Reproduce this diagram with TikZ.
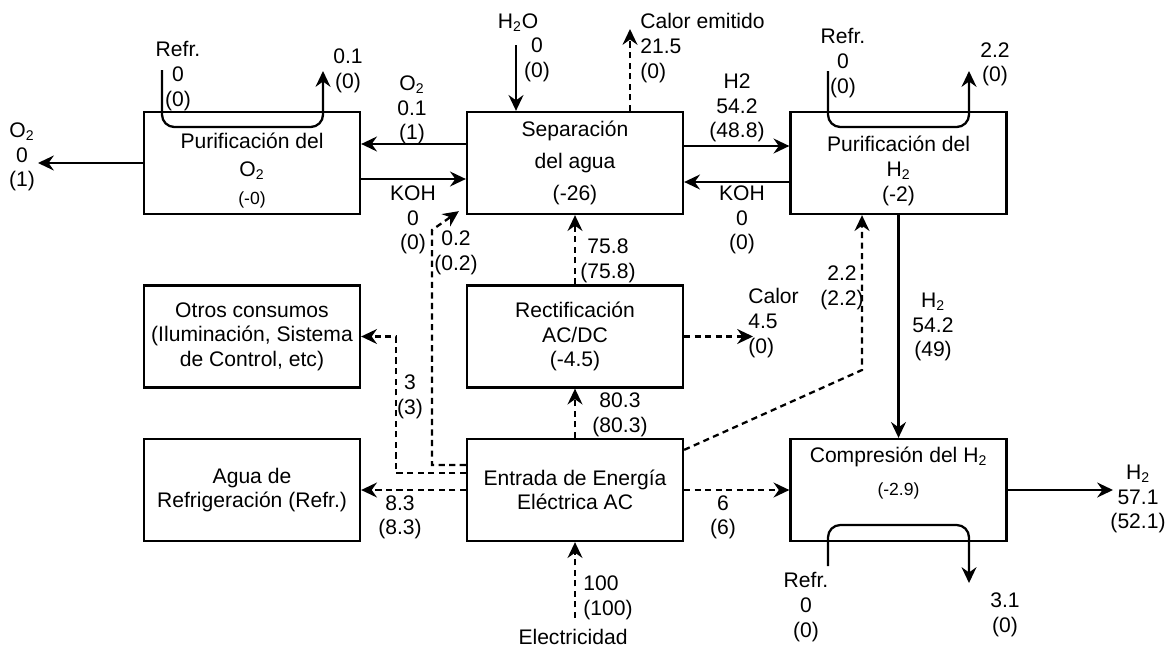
\documentclass[tikz,border=0pt]{standalone}
\usepackage{fontspec}
\setmainfont{Liberation Sans}
\usepackage{tikz}
\usetikzlibrary{arrows.meta}

\begin{document}
\begin{tikzpicture}[font=\fontsize{12}{14}\selectfont,
    box/.style={draw, line width=1.3pt, minimum width=4.32cm, minimum height=2.04cm, align=center, inner sep=2pt},
    flow/.style={line width=1.3pt, -{Stealth[length=9pt,width=8.5pt,inset=3pt]}},
    eflow/.style={flow, dash pattern=on 3.5pt off 2.5pt},
    lbl/.style={align=center, inner sep=0pt}]
    \useasboundingbox (0,0) rectangle (23.48,-12.96);

    % Boxes
    \node[box] (po2) at (5.04,-3.26) {\strut\\[-6pt]Purificación del\\[2pt]O\textsubscript{2}\\[2pt]{\fontsize{10}{12}\selectfont (-0)}};
    \node[box] (sep) at (11.5,-3.26) {Separación\\[4pt]del agua\\[4pt](-26)};
    \node[box] (ph2) at (17.97,-3.26) {\strut\\[-6pt]Purificación del\\H\textsubscript{2}\\(-2)};
    \node[box] (otros) at (5.04,-6.73) {Otros consumos\\(Iluminación, Sistema\\de Control, etc)};
    \node[box] (rect) at (11.5,-6.73) {Rectificación\\AC/DC\\(-4.5)};
    \node[box] (agua) at (5.04,-9.8) {Agua de\\Refrigeración (Refr.)};
    \node[box] (entr) at (11.5,-9.8) {Entrada de Energía\\Eléctrica AC};
    \node[box] (comp) at (17.97,-9.8) {Compresión del H\textsubscript{2}\\[5pt]{\fontsize{10}{12}\selectfont (-2.9)}\\[3pt]\strut};

    % O2 out
    \coordinate (o2out) at (0.76,-3.26);
    \draw[flow] (po2.west) -- (o2out);
    \node[lbl] (lo2out) at (0.44,-3.14) {O\textsubscript{2}\\0\\(1)};

    % O2 from separation
    \draw[flow] ([yshift=0.38cm]sep.west) -- ([yshift=0.38cm]po2.east);
    \node[lbl] (lo2) at (8.24,-2.2) {O\textsubscript{2}\\0.1\\(1)};

    % KOH back to separation
    \draw[flow] ([yshift=-0.32cm]po2.east) -- ([yshift=-0.32cm]sep.west);
    \node[lbl] (lkoha) at (8.26,-4.4) {KOH\\0\\(0)};

    % H2O in
    \coordinate (h2oin) at (10.32,-0.9);
    \draw[flow] (h2oin) -- (h2oin |- sep.north);
    \node[lbl] (lh2o) at (10.36,-0.46) {H\textsubscript{2}O};
    \node[lbl] (lh2ov) at (10.74,-1.2) {0\\(0)};

    % Heat out
    \coordinate (calem) at (12.6,-0.58);
    \draw[eflow] (calem |- sep.north) -- (calem);
    \node[lbl, anchor=west, align=left] (lcalem) at (12.8,-0.96) {Calor emitido\\21.5\\(0)};

    % H2 to purification
    \draw[flow] ([yshift=0.34cm]sep.east) -- ([yshift=0.34cm]ph2.west);
    \node[lbl] (lh2a) at (14.74,-2.16) {H2\\54.2\\(48.8)};

    % KOH back from H2 purification
    \draw[flow] ([yshift=-0.38cm]ph2.west) -- ([yshift=-0.38cm]sep.east);
    \node[lbl] (lkohb) at (14.84,-4.4) {KOH\\0\\(0)};

    % Refr. loop O2
    \coordinate (o2rin) at (3.24,-1.4);
    \coordinate (o2rout) at (6.46,-1.42);
    \draw[flow, rounded corners=7pt] (o2rin) -- ++(0,-1.14) -| (o2rout);
    \node[lbl] (lo2rin) at (3.56,-1.52) {Refr.\\0\\(0)};
    \node[lbl] (lo2rout) at (6.96,-1.42) {0.1\\(0)};

    % Refr. loop H2
    \coordinate (h2rin) at (16.56,-1.42);
    \coordinate (h2rout) at (19.38,-1.42);
    \draw[flow, rounded corners=7pt] (h2rin) -- ++(0,-1.12) -| (h2rout);
    \node[lbl] (lh2rin) at (16.86,-1.26) {Refr.\\0\\(0)};
    \node[lbl] (lh2rout) at (19.9,-1.29) {2.2\\(0)};

    % H2 to compression
    \draw[flow] (ph2.south) -- (comp.north);
    \node[lbl] (lh2b) at (18.66,-6.54) {H\textsubscript{2}\\54.2\\(49)};

    % DC to separation
    \draw[eflow] (rect.north) -- (sep.south);
    \node[lbl] (l758) at (12.16,-5.22) {75.8\\(75.8)};

    % AC to rectification
    \draw[eflow] (entr.north) -- (rect.south);
    \node[lbl] (l803) at (12.4,-8.3) {80.3\\(80.3)};

    % Rectification heat
    \coordinate (calor) at (15.06,-6.73);
    \draw[eflow] (rect.east) -- (calor);
    \node[lbl, anchor=west, align=left] (lcalor) at (14.96,-6.46) {Calor\\4.5\\(0)};

    % Electricity in
    \coordinate (elec) at (11.5,-12.36);
    \draw[eflow] (elec) -- (entr.south);
    \node[lbl, anchor=west, align=left] (l100) at (11.66,-11.96) {100\\(100)};
    \node[lbl] (lelec) at (11.46,-12.74) {Electricidad};

    % Cooling water
    \draw[eflow] (entr.west) -- (agua.east);
    \node[lbl] (l83) at (8.0,-10.35) {8.3\\(8.3)};

    % Compression power
    \draw[eflow] (entr.east) -- (comp.west);
    \node[lbl] (l6) at (14.46,-10.35) {6\\(6)};

    % Other consumers
    \coordinate (c3) at (7.92,-6.73);
    \draw[eflow] ([yshift=0.34cm]entr.west) -| (c3) -- (otros.east);
    \node[lbl] (l3) at (8.2,-7.94) {3\\(3)};

    % Power to separation
    \coordinate (c02) at (8.64,-4.6);
    \draw[eflow] ([yshift=0.5cm]entr.west) -| (c02) -- ([shift={(-0.14,0.08)}]sep.south west);
    \node[lbl] (l02) at (9.12,-5.06) {0.2\\(0.2)};

    % Power to H2 purification
    \coordinate (c22) at (17.24,-7.4);
    \draw[eflow] ([yshift=-0.24cm]entr.north east) -- (c22) -- (c22 |- ph2.south);
    \node[lbl] (l22) at (16.84,-5.76) {2.2\\(2.2)};

    % H2 out
    \coordinate (h2out) at (22.26,-9.8);
    \draw[flow] (comp.east) -- (h2out);
    \node[lbl] (lh2out) at (22.76,-9.98) {H\textsubscript{2}\\57.1\\(52.1)};

    % Refr. loop compression
    \coordinate (cprin) at (16.56,-11.32);
    \coordinate (cprout) at (19.38,-11.66);
    \draw[flow, rounded corners=7pt] (cprin) -- ++(0,0.82) -| (cprout);
    \node[lbl] (lcprin) at (16.12,-12.14) {Refr.\\0\\(0)};
    \node[lbl] (lcprout) at (20.1,-12.3) {3.1\\(0)};
\end{tikzpicture}
\end{document}
